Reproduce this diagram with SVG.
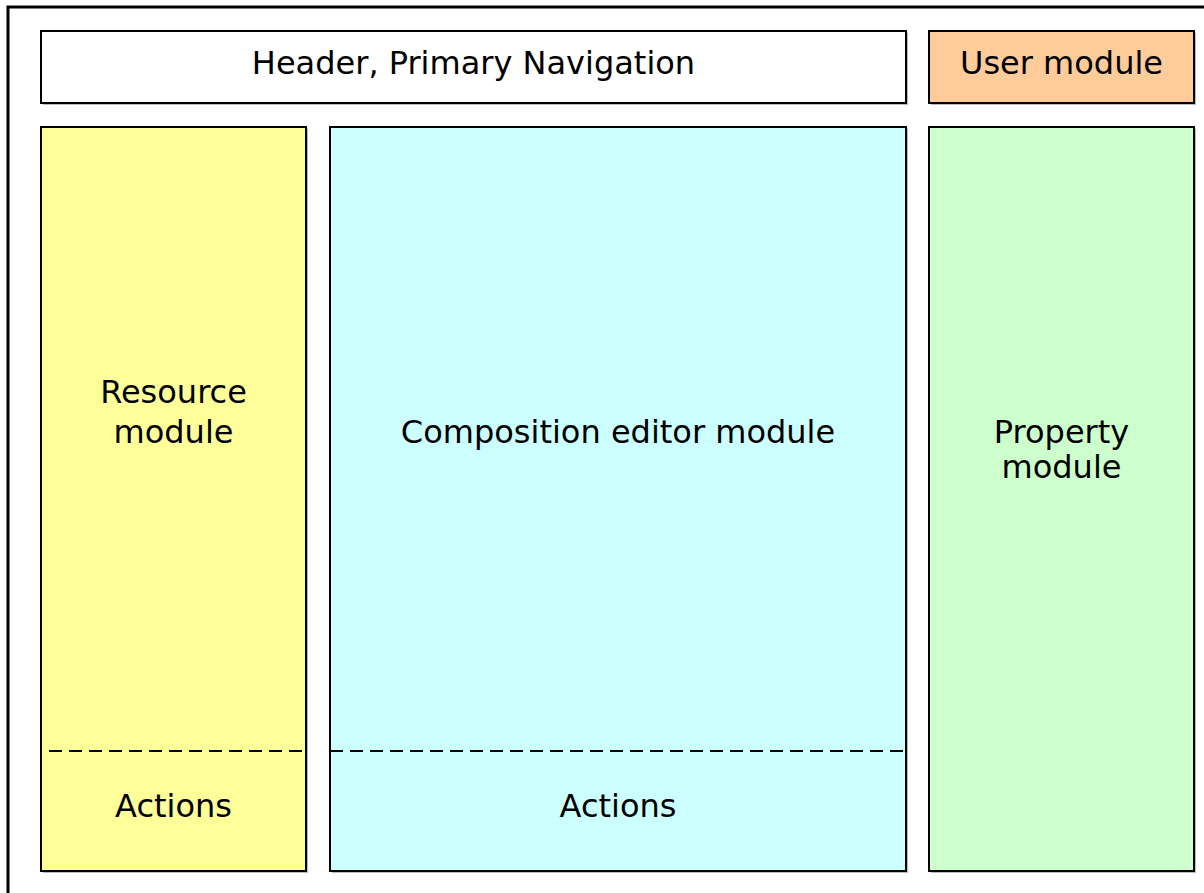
<svg xmlns="http://www.w3.org/2000/svg" width="1204" height="893" viewBox="0 0 1204 893">
<style>
.box{stroke:#000;stroke-width:2}
.sh{fill:#bbb}
.t{font-family:"DejaVu Sans","Verdana",sans-serif;font-size:32px;fill:#000;text-anchor:middle}
.dash{stroke:#000;stroke-width:2;stroke-dasharray:13 7;fill:none}
</style>
<rect width="1204" height="893" fill="#fff"/>
<g id="frame"><rect x="8" y="7" width="1210" height="900" fill="none" stroke="#000" stroke-width="3"/></g>
<g id="header">
<rect class="sh" x="43" y="33" width="865" height="72"/>
<rect class="box" x="41" y="31" width="865" height="72" fill="#fff"/>
<text class="t" x="473.5" y="74">Header, Primary Navigation</text>
</g>
<g id="user">
<rect class="sh" x="931" y="33" width="265" height="72"/>
<rect class="box" x="929" y="31" width="265" height="72" fill="#ffcc99"/>
<text class="t" x="1061.5" y="74">User module</text>
</g>
<g id="resource">
<rect class="sh" x="43" y="129" width="265" height="744"/>
<rect class="box" x="41" y="127" width="265" height="744" fill="#ffff99"/>
<text class="t" x="173.5" y="403">Resource</text>
<text class="t" x="173.5" y="443">module</text>
<text class="t" x="173.5" y="817">Actions</text>
</g>
<g id="composition">
<rect class="sh" x="332" y="129" width="576" height="744"/>
<rect class="box" x="330" y="127" width="576" height="744" fill="#ccffff"/>
<text class="t" x="618" y="443">Composition editor module</text>
<text class="t" x="618" y="817">Actions</text>
</g>
<g id="property">
<rect class="sh" x="931" y="129" width="265" height="744"/>
<rect class="box" x="929" y="127" width="265" height="744" fill="#ccffcc"/>
<text class="t" x="1061.5" y="443">Property</text>
<text class="t" x="1061.5" y="478">module</text>
</g>
<g id="connectors">
<line class="dash" x1="49" y1="751" x2="306" y2="751"/>
<line class="dash" x1="330" y1="751" x2="906" y2="751"/>
</g>
</svg>
